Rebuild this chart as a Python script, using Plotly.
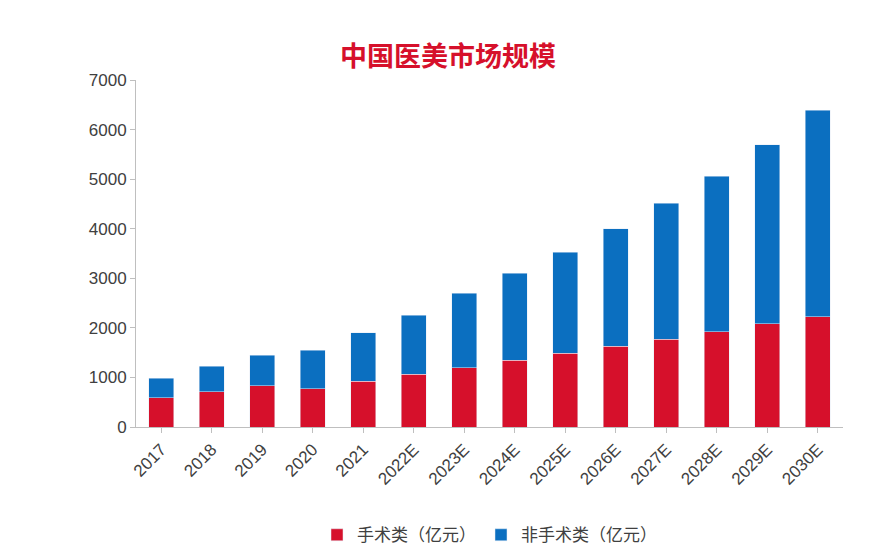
import plotly.graph_objects as go

years = ["2017", "2018", "2019", "2020", "2021", "2022E", "2023E", "2024E",
         "2025E", "2026E", "2027E", "2028E", "2029E", "2030E"]
surgical = [590, 715, 835, 775, 920, 1060, 1200, 1350, 1490, 1630, 1775, 1920, 2080, 2225]
total = [980, 1225, 1450, 1550, 1900, 2250, 2700, 3100, 3530, 4000, 4510, 5060, 5690, 6390]
non_surgical = [t - s for t, s in zip(total, surgical)]

fig = go.Figure()
fig.add_trace(go.Bar(x=years, y=surgical, name="手术类（亿元）", marker_color="#d6102b", width=0.5))
fig.add_trace(go.Bar(x=years, y=non_surgical, name="非手术类（亿元）", marker_color="#0b6fc0", width=0.5))

fig.update_layout(
    barmode="stack",
    width=880, height=558,
    paper_bgcolor="white", plot_bgcolor="white",
    font=dict(family="Arial, Noto Sans CJK SC", size=17, color="#404040"),
    title=dict(text="<b>中国医美市场规模</b>", x=0.5, xanchor="center", y=0.93,
               font=dict(family="Noto Sans CJK SC", size=27, color="#d6102b")),
    margin=dict(l=128, r=45, t=72, b=139),
    xaxis=dict(tickangle=-45, showline=True, linecolor="#bfbfbf", ticks="outside",
               tickcolor="#bfbfbf", ticklen=5),
    yaxis=dict(range=[0, 7000], dtick=1000, showgrid=False, showline=True,
               linecolor="#bfbfbf", ticks="outside", tickcolor="#bfbfbf", ticklen=5),
    legend=dict(orientation="h", traceorder="normal", x=0.5, xanchor="center",
                y=-0.26, yanchor="top", font=dict(family="Noto Sans CJK SC", size=17)),
)

fig.write_html("out.html")
